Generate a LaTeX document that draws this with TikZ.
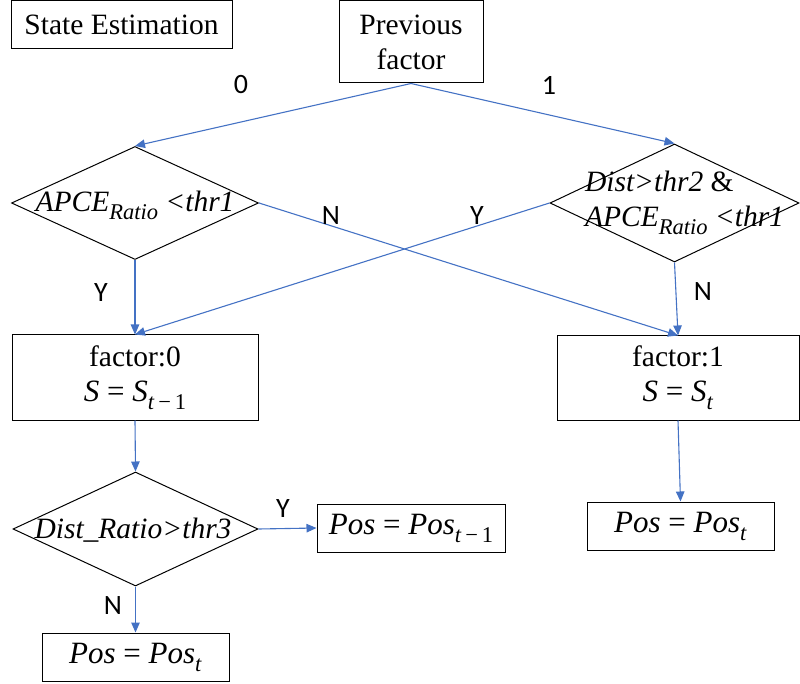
\documentclass[tikz,border=0pt]{standalone}
\usepackage{fontspec}
\setmainfont{Liberation Serif}
\newfontfamily\lblfont{Carlito}
\usetikzlibrary{shapes.geometric,arrows.meta}
\definecolor{flowblue}{HTML}{4472C4}
% zero-size text box: #1 = twice the horizontal shift, #2 = baseline raise
\newcommand{\placedtext}[3]{\makebox[0pt]{\hspace{#1}\raisebox{#2}[0pt][0pt]{#3}}}
% lowered small text for subscripts
\newcommand{\subtx}[1]{\raisebox{-0.26em}{\fontsize{22.5}{24}\selectfont #1}}
\newcommand{\apce}{\textit{APCE}\subtx{\textit{Ratio}}}
\newcommand{\eqtx}[1]{{\fontsize{31}{35}\selectfont #1}}
\tikzset{
  boxnode/.style={draw=black, line width=1pt, inner sep=0pt, align=center,
    font=\fontsize{29.5}{35}\selectfont},
  dianode/.style={draw=black, line width=1pt, shape=diamond, inner sep=0pt,
    font=\fontsize{29.5}{35}\selectfont},
  flow/.style={draw=flowblue, line width=1.1pt, -{Triangle[length=10pt,width=8.5pt]}},
  lbl/.style={inner sep=0pt, font=\lblfont\fontsize{28}{30}\selectfont},
}
\begin{document}
\begin{tikzpicture}[x=1pt,y=-1pt]
\useasboundingbox (0,0) rectangle (800,684);

% title and starting box
\node[boxnode, minimum width=221pt, minimum height=48pt] (se) at (121.5,25) {State Estimation};
\node[boxnode, minimum width=144pt, minimum height=82pt] (prev) at (411,42) {Previous\\factor};

% first decisions
\node[dianode, minimum width=247pt, minimum height=113pt] (d1) at (135,203)
  {\placedtext{0pt}{-9pt}{\apce{} \textit{<thr1}}};
\node[dianode, minimum width=249pt, minimum height=118pt] (d2) at (674.5,203)
  {\placedtext{20pt}{11pt}{\begin{tabular}[t]{@{}l@{}}\textit{Dist>thr2} \&\\
    \apce{} \textit{<thr1}\end{tabular}}};

% factor boxes
\node[boxnode, minimum width=246pt, minimum height=85pt] (f0) at (135,377.5)
  {factor:0\\\eqtx{\textit{S} = \textit{S}\subtx{\textit{t}\,−\,1}}};
\node[boxnode, minimum width=242pt, minimum height=84pt] (f1) at (678,378)
  {factor:1\\\eqtx{\textit{S} = \textit{S}\subtx{\textit{t}}}};

% position updates
\node[boxnode, minimum width=187pt, minimum height=48pt] (p1) at (680.5,526)
  {\eqtx{\textit{Pos} = \textit{Pos}\subtx{\textit{t}}}};
\node[dianode, minimum width=245pt, minimum height=114pt] (d3) at (135.5,529)
  {\placedtext{-5pt}{-9pt}{\textit{Dist\_Ratio>thr3}}};
\node[boxnode, minimum width=188pt, minimum height=48pt] (p2) at (411,528)
  {\eqtx{\textit{Pos} = \textit{Pos}\subtx{\textit{t}\,−\,1}}};
\node[boxnode, minimum width=187pt, minimum height=48pt] (p3) at (135.5,657)
  {\eqtx{\textit{Pos} = \textit{Pos}\subtx{\textit{t}}}};

% connectors
\draw[flow] (prev.south) -- (d1.north);
\draw[flow] (prev.south) -- (d2.north);
\draw[flow] (d1.east) -- (f1.north);
\draw[flow] (d2.west) -- (f0.north);
\draw[flow] (d1.south) -- (f0.north);
\draw[flow] (d2.south) -- (f1.north);
\draw[flow] (f0.south) -- (d3.north);
\draw[flow] (f1.south) -- (p1.north);
\draw[flow] (d3.east) -- (p2.west);
\draw[flow] (d3.south) -- (p3.north);

% branch labels
\node[lbl] (l0) at (241,85) {0};
\node[lbl] (l1) at (549,85) {1};
\node[lbl] (ln1) at (331,216) {N};
\node[lbl] (ly1) at (477,216) {Y};
\node[lbl] (ly2) at (101,293) {Y};
\node[lbl] (ln2) at (703,292) {N};
\node[lbl] (ly3) at (283,509) {Y};
\node[lbl] (ln3) at (113,606) {N};
\end{tikzpicture}
\end{document}
